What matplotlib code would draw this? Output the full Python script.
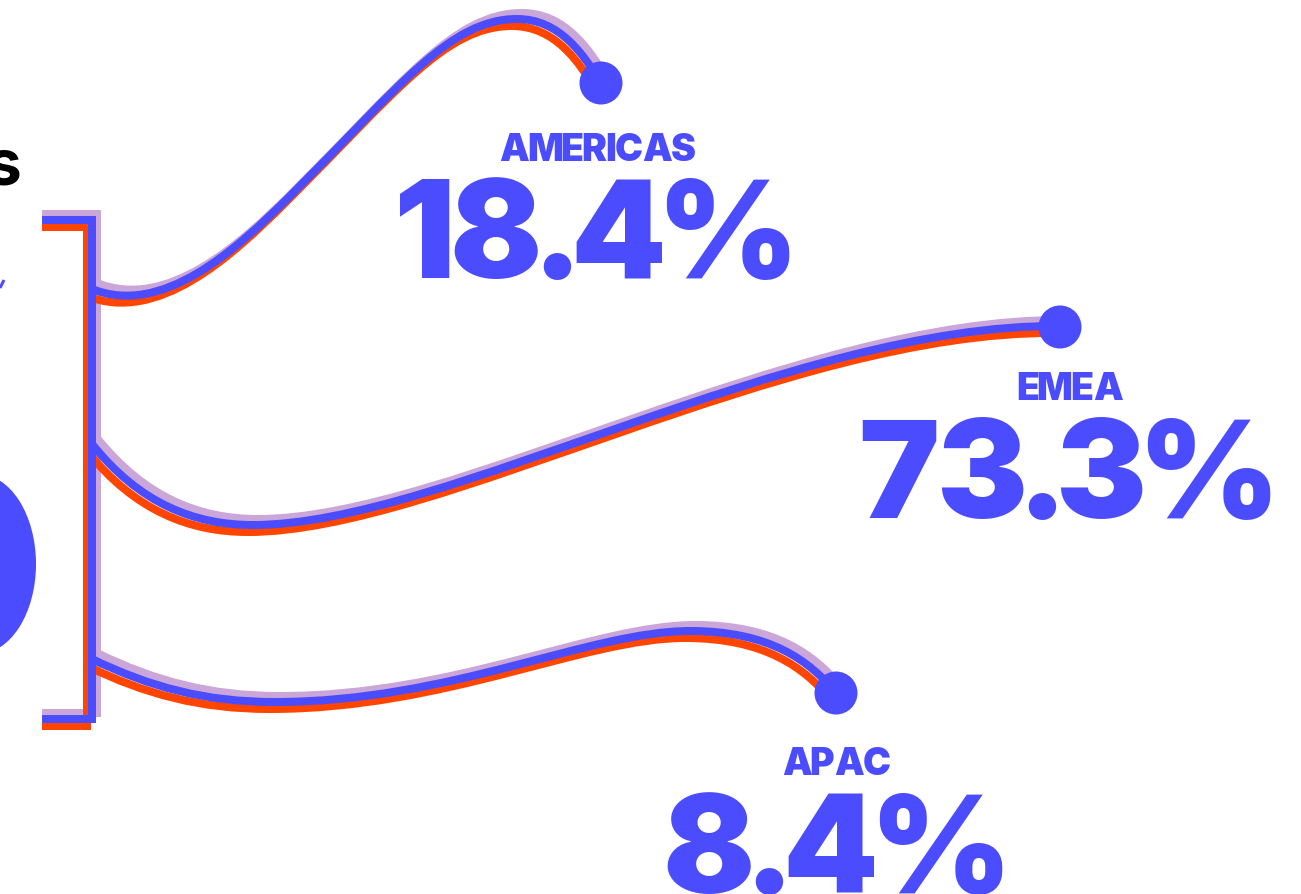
import matplotlib
matplotlib.use("Agg")
import matplotlib.pyplot as plt
from matplotlib.path import Path
from matplotlib.patches import PathPatch, Circle, Ellipse
from matplotlib import font_manager
from matplotlib.font_manager import FontProperties

# ---- data ----
regions = ["AMERICAS", "EMEA", "APAC"]
shares = [18.4, 73.3, 8.4]

# ---- style ----
BLUE = "#4C4CFF"
ORANGE = "#FF4500"
LILAC = "#CBA6D8"
W, H = 1301, 895
DPI = 100
PX = 72 / DPI  # points per pixel
LW = 8 * PX

fams = {f.name for f in font_manager.fontManager.ttflist}
FONT = "Inter" if "Inter" in fams else "DejaVu Sans"

# ---- layout (pixel space, y downward) ----
curve_segments = [
    # AMERICAS
    [((92, 290), (162, 318), (235, 252), (290, 197)),
     ((290, 197), (400, 87), (450, 20), (517, 20)),
     ((517, 20), (560, 20), (584, 56), (601, 84))],
    # EMEA
    [((92, 445), (140, 505), (195, 526), (253, 526)),
     ((253, 526), (445, 526), (790, 325), (1060, 327))],
    # APAC
    [((92, 660), (150, 688), (205, 703), (275, 703)),
     ((275, 703), (450, 703), (590, 632), (690, 632)),
     ((690, 632), (770, 632), (810, 662), (836, 694))],
]
dot_centers = [(601, 84), (1060, 328), (836, 694)]
DOT_R = 21.5

label_pos = [(597, 161), (1070, 400), (836, 775)]
value_pos = [(594, 278), (1066, 518), (834, 893)]
LABEL_SIZE, VALUE_SIZE = 27, 98
LABEL_GAP_EM, VALUE_GAP_EM = 0.015, 0.038

bracket = [(42, 221), (92, 221), (92, 720), (42, 720)]
layers = [(LILAC, 5, -6), (ORANGE, -5, 7), (BLUE, 0, 0)]

fig = plt.figure(figsize=(W / DPI, H / DPI), dpi=DPI)
ax = fig.add_axes([0, 0, 1, 1])
ax.set_xlim(0, W)
ax.set_ylim(H, 0)
ax.axis("off")


def bez_path(segs, dx, dy):
    verts = [segs[0][0]]
    codes = [Path.MOVETO]
    for p0, c1, c2, p1 in segs:
        verts += [c1, c2, p1]
        codes += [Path.CURVE4] * 3
    verts = [(x + dx, y + dy) for x, y in verts]
    return Path(verts, codes)


def spaced_text(x_center, y, s, size, gap_em, **kw):
    """Draw text glyph by glyph with an even ink gap between glyphs."""
    prop = FontProperties(family=FONT, weight="black", size=size)
    try:
        from matplotlib.ft2font import FT2Font
        font = FT2Font(font_manager.findfont(prop), hinting_factor=1)
        font.set_size(size, DPI)
        inks = []
        for c in s:
            g = font.load_char(ord(c))
            inks.append((g.horiBearingX / 64.0, g.width / 64.0))
    except Exception:
        ax.text(x_center, y, s, ha="center", va="baseline", fontproperties=prop, **kw)
        return
    gap = gap_em * size / PX
    total = sum(w for _, w in inks) + gap * (len(s) - 1)
    x = x_center - total / 2
    for c, (lsb, w) in zip(s, inks):
        ax.text(x - lsb, y, c, ha="left", va="baseline", fontproperties=prop, **kw)
        x += w + gap


for color, dx, dy in layers:
    bx = [bracket[0][0]] + [p[0] + dx for p in bracket[1:3]] + [bracket[3][0]]
    by = [p[1] + dy for p in bracket]
    ax.plot(bx, by, color=color, lw=LW, solid_joinstyle="miter",
            solid_capstyle="butt", zorder=2)
    for segs in curve_segments:
        ax.add_patch(PathPatch(bez_path(segs, dx, dy), fill=False, edgecolor=color,
                               lw=LW, capstyle="butt", joinstyle="round", zorder=2))

for (cx, cy) in dot_centers:
    ax.add_patch(Circle((cx, cy), DOT_R, color=BLUE, zorder=4, lw=0))

for name, val, (lx, ly), (vx, vy) in zip(regions, shares, label_pos, value_pos):
    spaced_text(lx, ly, name, LABEL_SIZE, LABEL_GAP_EM, color=BLUE, zorder=5)
    spaced_text(vx, vy, f"{val:.1f}%", VALUE_SIZE, VALUE_GAP_EM, color=BLUE, zorder=5)

# partially visible elements at the left edge
ax.text(21, 184, "s", ha="right", va="baseline", color="black",
        fontsize=46, fontweight="bold", family=FONT)
ax.add_patch(Ellipse((-22, 565), 116, 180, color=BLUE, lw=0))
ax.plot([0, 4], [289, 281], color=BLUE, lw=3 * PX, solid_capstyle="butt")

fig.savefig("out.png", dpi=DPI)
